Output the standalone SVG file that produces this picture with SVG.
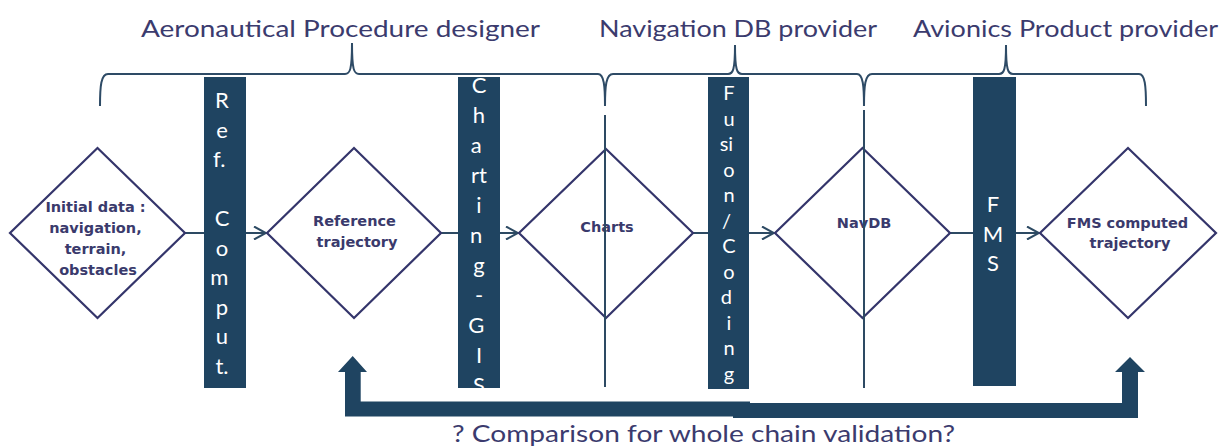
<svg xmlns="http://www.w3.org/2000/svg" width="1227" height="448" viewBox="0 0 1227 448">
  <style>
    .title { font-family: Lato, "Noto Sans", "Liberation Sans", sans-serif; font-weight: 400; font-size: 24px; fill: #3b3b6e; }
    .brace { fill: none; stroke: #2e4b66; stroke-width: 2; }
    .bar { fill: #1f4461; }
    .bartxt { font-family: Lato, "Noto Sans", "Liberation Sans", sans-serif; font-weight: 400; font-size: 22px; fill: #ffffff; text-anchor: middle; }
    .diamond { fill: #ffffff; stroke: #34356b; stroke-width: 2.2; }
    .ntxt { font-family: "DejaVu Sans", "Liberation Sans", sans-serif; font-weight: bold; font-size: 14.5px; fill: #3a3a6c; text-anchor: middle; }
    .conn { fill: none; stroke: #2d4a63; stroke-width: 2; }
    .big { fill: #1f4461; }
  </style>
  <defs>
    <marker id="chev" viewBox="0 0 14 14" refX="13" refY="7" markerWidth="14" markerHeight="14" markerUnits="userSpaceOnUse" orient="auto">
      <path d="M1,0.5 L13,7 L1,13.5" fill="none" stroke="#2d4a63" stroke-width="2"/>
    </marker>
    <clipPath id="clipGIS"><rect x="458" y="77" width="42" height="311"/></clipPath>
  </defs>

  <!-- organisation headings -->
  <g id="headings">
    <text class="title" x="141" y="37" textLength="399" lengthAdjust="spacingAndGlyphs">Aeronautical Procedure designer</text>
    <text class="title" x="599" y="37" textLength="278" lengthAdjust="spacingAndGlyphs">Navigation DB provider</text>
    <text class="title" x="913" y="37" textLength="305" lengthAdjust="spacingAndGlyphs">Avionics Product provider</text>
  </g>

  <!-- curly braces grouping each organisation's steps -->
  <g id="braces">
    <path class="brace" d="M100,106 C100,86 101,74 108,74 L345,74 C350,74 352,70 352,43 C352,70 354,74 359,74 L598,74 C604,74 605,86 605,106"/>
    <path class="brace" d="M605,106 C605,86 606,74 613,74 L728,74 C733,74 735,70 735,45 C735,70 737,74 742,74 L857,74 C863,74 864,86 864,106"/>
    <path class="brace" d="M864,106 C864,86 865,74 872,74 L999,74 C1004,74 1006,70 1006,45 C1006,70 1008,74 1013,74 L1139,74 C1145,74 1146,86 1146,106"/>
  </g>

  <!-- flow connectors -->
  <g id="connectors">
    <line class="conn" x1="185" y1="233" x2="266" y2="233" marker-end="url(#chev)"/>
    <line class="conn" x1="441" y1="233" x2="518" y2="233" marker-end="url(#chev)"/>
    <line class="conn" x1="693" y1="233" x2="774" y2="233" marker-end="url(#chev)"/>
    <line class="conn" x1="950" y1="233" x2="1039" y2="233" marker-end="url(#chev)"/>
  </g>

  <!-- process bars -->
  <g id="bar-ref-comput">
    <rect class="bar" x="204" y="77" width="42" height="311"/>
    <text class="bartxt">
      <tspan x="222" y="108">R</tspan><tspan x="222" y="137.5">e</tspan><tspan x="222" y="167">f.</tspan>
      <tspan x="222" y="226">C</tspan><tspan x="222" y="255.5">o</tspan><tspan x="222" y="285">m</tspan>
      <tspan x="222" y="314.5">p</tspan><tspan x="222" y="344">u</tspan><tspan x="222" y="373.5">t.</tspan>
    </text>
  </g>
  <g id="bar-charting-gis">
    <rect class="bar" x="458" y="77" width="42" height="311"/>
    <text class="bartxt" clip-path="url(#clipGIS)">
      <tspan x="479" y="93">C</tspan><tspan x="479" y="123">h</tspan><tspan x="479" y="153">a</tspan>
      <tspan x="479" y="183">rt</tspan><tspan x="479" y="213">i</tspan><tspan x="479" y="243">n</tspan>
      <tspan x="479" y="273">g</tspan><tspan x="479" y="303">-</tspan><tspan x="479" y="333">G</tspan>
      <tspan x="479" y="363">I</tspan><tspan x="479" y="393">S</tspan>
    </text>
  </g>
  <g id="bar-fusion-coding">
    <rect class="bar" x="708" y="77" width="41" height="312"/>
    <text class="bartxt" style="font-size:20px">
      <tspan x="729" y="100">F</tspan><tspan x="729" y="125.5">u</tspan><tspan x="729" y="151">si</tspan>
      <tspan x="729" y="176.5">o</tspan><tspan x="729" y="202">n</tspan><tspan x="729" y="227.5">/</tspan>
      <tspan x="729" y="253">C</tspan><tspan x="729" y="278.5">o</tspan><tspan x="729" y="304">d</tspan>
      <tspan x="729" y="329.5">i</tspan><tspan x="729" y="355">n</tspan><tspan x="729" y="380.5">g</tspan>
    </text>
  </g>
  <g id="bar-fms">
    <rect class="bar" x="973" y="77" width="43" height="309"/>
    <text class="bartxt">
      <tspan x="993" y="212">F</tspan><tspan x="993" y="241.5">M</tspan><tspan x="993" y="271">S</tspan>
    </text>
  </g>

  <!-- data nodes -->
  <g id="node-initial-data">
    <polygon class="diamond" points="97.5,148 185,233 97.5,318 10,233"/>
    <text class="ntxt">
      <tspan x="98" y="212">Initial data :</tspan>
      <tspan x="98" y="233">navigation,</tspan>
      <tspan x="98" y="254">terrain,</tspan>
      <tspan x="98" y="275">obstacles</tspan>
    </text>
  </g>
  <g id="node-reference-trajectory">
    <polygon class="diamond" points="354,148 441,233 354,318 267,233"/>
    <text class="ntxt">
      <tspan x="357" y="226">Reference</tspan>
      <tspan x="357" y="247">trajectory</tspan>
    </text>
  </g>
  <g id="node-charts">
    <polygon class="diamond" points="606,149 693,233 606,318 519,233"/>
    <text class="ntxt" x="607" y="232">Charts</text>
  </g>
  <g id="node-navdb">
    <polygon class="diamond" points="862.5,148 950,233 862.5,318 775,233"/>
    <text class="ntxt" x="864" y="228">NavDB</text>
  </g>
  <g id="node-fms-trajectory">
    <polygon class="diamond" points="1128,148 1216,233 1128,318 1040,233"/>
    <text class="ntxt">
      <tspan x="1130" y="228">FMS computed</tspan>
      <tspan x="1130" y="248">trajectory</tspan>
    </text>
  </g>

  <!-- organisation boundaries -->
  <g id="boundaries">
    <line class="conn" x1="605" y1="115" x2="605" y2="387"/>
    <line class="conn" x1="864" y1="110" x2="864" y2="388"/>
  </g>

  <!-- whole-chain comparison feedback -->
  <g id="comparison">
    <path class="big" d="M750,401.5 L360.7,401.5 L360.7,372 L367,372 L352.7,356 L338,372 L345,372 L345,416.5 L750,416.5 Z"/>
    <path class="big" d="M733,403 L1122,403 L1122,372 L1115,372 L1130,357 L1145,372 L1138,372 L1138,418 L733,418 Z"/>
    <text class="title" x="452" y="442" textLength="503" lengthAdjust="spacingAndGlyphs">? Comparison for whole chain validation?</text>
  </g>
</svg>
